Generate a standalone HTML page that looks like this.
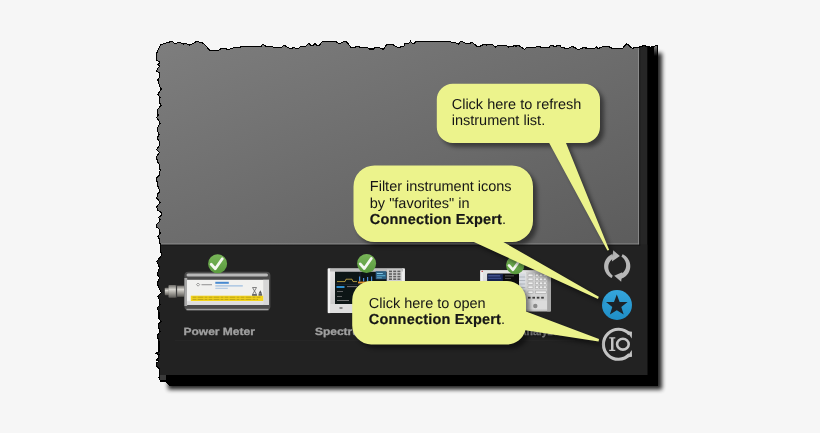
<!DOCTYPE html>
<html><head><meta charset="utf-8">
<style>
html,body{margin:0;padding:0;width:820px;height:433px;overflow:hidden;background:#f6f6f6;}
svg{position:absolute;left:0;top:0;}
.t{font-family:"Liberation Sans",sans-serif;font-size:14.5px;fill:#161616;}
.b{font-weight:bold;letter-spacing:0.2px;stroke:#161616;stroke-width:0.2px;}
.lab{font-family:"Liberation Sans",sans-serif;font-size:10.5px;font-weight:bold;fill:#a0a0a0;stroke:#a0a0a0;stroke-width:0.3px;}
</style></head><body>
<svg width="820" height="433" viewBox="0 0 820 433" text-rendering="geometricPrecision">
<defs>
<path id="torn" d="M156.8,53.3 L158.7,48.4 L160.5,44.8 L164.8,43.3 L172,41.3 L174.5,43.3 L180.6,42.6 L183,44.1 L186,43.5 L189.8,45.1 L197,41.3 L203.2,43.3 L209.9,50.2 L219,50.2 L220.9,48.4 L225.7,48.7 L228.2,49.6 L234.3,47.6 L245.2,46.6 L255,46.6 L261.1,46.3 L262.9,44.1 L266,46.2 L272.1,46.2 L273.3,47.2 L281.8,47.2 L283.7,45.4 L286.1,46.3 L289.1,48.2 L292.2,48.2 L293.4,47.2 L295.2,48.2 L298.9,48.2 L300.7,46.3 L305.6,46.3 L308.7,43.5 L311.1,45.4 L312.9,45.4 L314.8,43.5 L317.2,45.4 L319,45.4 L322.7,41.3 L335.5,41.3 L338.5,43.5 L340.4,43.5 L341.6,42.6 L344.6,41.3 L347.1,42.3 L351.3,47.8 L355,47.2 L358,46.2 L361.1,47.8 L367.8,47.8 L369.6,49 L373.3,49 L375.1,47.2 L378.8,47.2 L381.8,49 L383.7,49 L386.7,44.5 L390.4,44.5 L392.2,44.1 L397.1,47.2 L400.1,47.2 L401.3,46.3 L403.8,46.3 L405,43.5 L408.7,43.5 L410.5,41.3 L412.3,43.3 L414.1,43.3 L416,41.3 L449.5,41.3 L451.3,42.3 L455,42.3 L456.2,43.3 L458.7,44.1 L460.5,41.3 L464.1,42.3 L465.4,43.3 L470.2,43.3 L471.5,42.3 L473.3,43.3 L477,46.3 L480,46.3 L482.4,45.1 L484.9,44.1 L486.7,45.1 L487.9,44.1 L492.2,44.1 L495.2,47.2 L498.3,45.4 L506.2,45.4 L508,47.2 L509.3,46.3 L512.9,46.3 L514.1,45.4 L516,46.3 L517.8,45.4 L520.2,46.3 L524.5,49.4 L526.3,47.6 L535.5,47.2 L536.7,46.6 L545.9,47.6 L548.9,47.6 L550.7,45.4 L555,46.4 L559.7,45.1 L561.7,47.8 L563.7,47.5 L565.7,48.8 L569.8,47.8 L572.4,46.4 L575.1,47.8 L578.5,49.8 L581.2,48.2 L583.9,47.8 L589.9,48.4 L593.9,48.8 L596.6,46.8 L598,48.8 L600.6,47.5 L603.3,46.4 L608.7,46.4 L612.7,48.8 L622.1,48.8 L626.8,43.7 L632.2,48.2 L638.2,47.5 L643.6,45.7 L645,45.7 L647,46.9 L648.2,46.1 L650.3,47.7 L651.9,46.5 L653.1,46.9 L655.5,45.7 L657.7,45.3 L657.7,385 L169.3,385 L165.3,381 L160.7,381 L159,377.9 L159.5,375 L159.5,369.2 L157.2,366.9 L156.1,363.5 L159,361.1 L156.7,360 L158.4,358.3 L159,354.8 L156.1,353.3 L159,351.9 L159,341.5 L157.2,335.8 L160.1,331.7 L159,328.8 L158.4,324.2 L161.3,321.3 L159,319 L159,312.7 L157.2,308.1 L160.1,304.6 L159.5,300 L157.8,296.1 L161.3,292.7 L159,288.1 L157.2,283.4 L159.5,277.7 L157.2,274.2 L159.5,267.3 L156.7,261.5 L161.3,255.8 L160.7,249.6 L160.1,243.8 L159.5,239.2 L157.8,236.9 L160.1,233.4 L159.5,229.4 L156.7,227.1 L156.7,224.2 L159.5,221.3 L160.1,219.6 L158.4,217.3 L161.3,215.6 L161.8,212.7 L157.8,210.4 L156.7,206.9 L160.1,202.3 L158.4,200 L156.7,198.4 L157.8,193.8 L160.1,191 L158.4,188.1 L157.2,183.4 L156.7,177.7 L159.5,175.4 L160.1,170.2 L159,163.8 L157.2,161.5 L156.7,156.3 L159.5,152.3 L156.7,149.6 L159,146.1 L159.5,141.5 L157.2,138.1 L159,134.6 L157.2,130 L157.8,127.1 L160.1,123.6 L159.5,121.9 L156.7,117.3 L158.4,115 L157.2,113.8 L157.8,109.2 L161.3,105.2 L159.5,102.9 L159.5,100 L160.1,97.3 L157.8,94.4 L161.3,89.2 L159.5,85.8 L157.8,80 L159.5,77.1 L159.5,73.1 L156.7,71.3 L157.2,69 L160.1,66.1 L157.8,65 L160.1,62.1 L156.7,60.4 L156.7,53.5 Z"/>
<clipPath id="clip"><use href="#torn"/></clipPath>
<filter id="sh" x="-10%" y="-10%" width="120%" height="120%"><feGaussianBlur stdDeviation="2"/></filter>
<filter id="soft" x="-5%" y="-5%" width="110%" height="110%"><feGaussianBlur stdDeviation="0.35"/></filter>
<filter id="csh" x="-20%" y="-20%" width="140%" height="140%"><feGaussianBlur stdDeviation="2"/></filter>
<linearGradient id="gg" x1="0" y1="0" x2="1" y2="1">
<stop offset="0" stop-color="#7e7e7e"/><stop offset="1" stop-color="#5c5c5c"/></linearGradient>
<linearGradient id="grn" x1="0" y1="0" x2="0" y2="1">
<stop offset="0" stop-color="#78b558"/><stop offset="1" stop-color="#5a9a3e"/></linearGradient>
<linearGradient id="blu" x1="0" y1="0" x2="0" y2="1">
<stop offset="0" stop-color="#35a6dc"/><stop offset="1" stop-color="#1f8ec6"/></linearGradient>
<linearGradient id="metal" x1="0" y1="0" x2="0" y2="1">
<stop offset="0" stop-color="#6e6c68"/><stop offset="0.35" stop-color="#d8d6d0"/><stop offset="0.6" stop-color="#a8a6a0"/><stop offset="1" stop-color="#5a5854"/></linearGradient>
<linearGradient id="pmtop" x1="0" y1="0" x2="0" y2="1">
<stop offset="0" stop-color="#505050"/><stop offset="0.3" stop-color="#8c8c8c"/><stop offset="0.6" stop-color="#5c5c5c"/><stop offset="1" stop-color="#464646"/></linearGradient>
<linearGradient id="pmbot" x1="0" y1="0" x2="0" y2="1">
<stop offset="0" stop-color="#4a4a4a"/><stop offset="0.7" stop-color="#5e5e5e"/><stop offset="1" stop-color="#a8a8a8"/></linearGradient>
<linearGradient id="silver" x1="0" y1="0" x2="0" y2="1">
<stop offset="0" stop-color="#e6e6e6"/><stop offset="1" stop-color="#c2c2c2"/></linearGradient>
<path id="c1" d="M452.8,83.8 H584 A16,16 0 0 1 600,99.8 V127 A16,16 0 0 1 584,143 H566 L609.2,250 L607.4,250.4 L549.2,143 H452.8 A16,16 0 0 1 436.8,127 V99.8 A16,16 0 0 1 452.8,83.8 Z"/>
<path id="c2" d="M374.5,165.4 H512 A21,21 0 0 1 533,186.4 V221 A21,21 0 0 1 512,242 H503.4 L598.8,296.8 L598,299 L473.9,242 H374.5 A21,21 0 0 1 353.5,221 V186.4 A21,21 0 0 1 374.5,165.4 Z"/>
<path id="c3" d="M371.2,281 H507 A19,19 0 0 1 526,300 V311.6 L599,339 L598.6,341.4 L525.4,330.2 A19,19 0 0 1 507,344.4 H371.2 A19,19 0 0 1 352.2,325.4 V300 A19,19 0 0 1 371.2,281 Z"/>
<linearGradient id="streak" x1="0" y1="0" x2="0" y2="1"><stop offset="0" stop-color="#9a9a9a"/><stop offset="1" stop-color="#000"/></linearGradient>
<filter id="nf" x="-5%" y="-20%" width="110%" height="140%"><feOffset dx="0" dy="0"/></filter>
</defs>
<!-- panel shadow -->
<path d="M650,53 H662 V389.5 H168 V378 H650 Z" fill="#000" opacity="0.85" filter="url(#sh)"/>
<!-- panel -->
<g clip-path="url(#clip)">
<rect x="150" y="38" width="512" height="352" fill="#000"/>
<rect x="150" y="38" width="489" height="207" fill="url(#gg)"/>
<rect x="639.3" y="38" width="8" height="337" fill="#262626"/>
<rect x="150" y="244.6" width="497.3" height="130.4" fill="#222"/>
<rect x="638.3" y="38" width="1" height="206.6" fill="#999"/>
<rect x="150" y="243.6" width="489.3" height="1" fill="#999"/>
<rect x="639.3" y="38" width="0.9" height="207.5" fill="#141414"/>
<rect x="150" y="244.6" width="490.2" height="0.9" fill="#141414"/>
<rect x="175" y="340.2" width="400" height="0.8" fill="#292929"/>
<rect x="654" y="44" width="3.5" height="12" fill="url(#streak)"/>
<rect x="159" y="375" width="7" height="6" fill="#3a3a3a"/>
</g>
<use href="#torn" fill="none" stroke="#000" stroke-width="1.1" shape-rendering="crispEdges"/>

<!-- power meter -->
<g filter="url(#soft)">
<rect x="164.8" y="287.8" width="4" height="7.4" rx="0.8" fill="url(#metal)"/>
<rect x="168.5" y="285.1" width="7.6" height="12.7" rx="0.8" fill="url(#metal)"/>
<rect x="175.9" y="285.1" width="1.2" height="12.7" fill="#3a3a3a"/>
<rect x="177.1" y="285.6" width="7.6" height="11.2" fill="url(#metal)"/>
<rect x="184.4" y="271.8" width="86" height="38.5" rx="4" fill="#4c4c4c"/>
<rect x="186.5" y="273.4" width="81.5" height="3" rx="1.5" fill="#b8b8b8"/>
<rect x="184.4" y="278" width="2.8" height="28" fill="#a8a8a8"/>
<rect x="187" y="279.8" width="82" height="25" fill="#f1f1ef"/>
<rect x="263.2" y="279.8" width="5.8" height="25" fill="#d6d6d6"/>
<rect x="190.8" y="295.7" width="72.4" height="5.3" fill="#f2d31c"/>
<path d="M192.5,297.2 H261 M192.5,299.4 H258" stroke="#5a4e10" stroke-width="0.7" opacity="0.5" stroke-dasharray="4 1 6 1 3 1"/>
<rect x="187" y="301.2" width="76" height="3.6" fill="#dedede"/>
<rect x="186.5" y="308.8" width="82" height="1.5" fill="#a0a0a0"/>
<path d="M196.5,284.6 l1.6,-1.6 l1.6,1.6 l-1.6,1.6 z" fill="none" stroke="#777" stroke-width="0.7"/>
<rect x="201.5" y="284" width="10.5" height="1.3" fill="#a6a6a6"/>
<rect x="215.3" y="281.8" width="13.5" height="2" fill="#4a8ad0"/>
<rect x="215.3" y="285.4" width="27.5" height="1" fill="#8ab2dc"/>
<rect x="215.3" y="287.8" width="12.5" height="1" fill="#a8c4e2"/>
<path d="M252.5,287.5 h4 l-2,3.5 l2,3.5 h-4 l2,-3.5 z" fill="none" stroke="#666" stroke-width="0.8"/>
<rect x="252" y="294.5" width="5" height="1.2" fill="#555"/>
<path d="M258.5,293.8 l1.8,-3.6 l1.8,3.6 z" fill="#555"/>
<rect x="258.5" y="294.2" width="3.6" height="1.4" fill="#444"/>
</g>
<!-- spectrum analyzer -->
<g filter="url(#soft)">
<rect x="327.8" y="268.5" width="77" height="44.6" rx="1" fill="url(#silver)"/>
<rect x="327.8" y="268.5" width="2.5" height="44.6" fill="#f2f2f2"/>
<rect x="402" y="268.5" width="2.8" height="44.6" fill="#ededed"/>
<rect x="330" y="268.5" width="73" height="3" fill="#bcbcbc"/>
<rect x="335" y="271.7" width="51.7" height="32.3" fill="#0e1218"/>
<path d="M337,281.6 H345 L346,279.2 H352 L353,281.6 H357" fill="none" stroke="#d0b848" stroke-width="0.8"/>
<path d="M336,284.5 H386 M360,272 V304" stroke="#3a3f48" stroke-width="0.4"/>
<rect x="359" y="276.5" width="1.2" height="5" fill="#4a90d8"/>
<rect x="363" y="278" width="1.2" height="3.5" fill="#4a90d8"/>
<rect x="367" y="277" width="1.2" height="4.5" fill="#4a90d8"/>
<rect x="371" y="276.5" width="1.2" height="5" fill="#4a90d8"/>
<rect x="358" y="281.6" width="14" height="1.8" fill="#e0902a"/>
<rect x="375.7" y="271.2" width="10.6" height="8" fill="#2b5f82"/>
<rect x="376.8" y="273" width="6" height="0.9" fill="#8fd0ee"/>
<rect x="376.8" y="275.3" width="8.5" height="0.9" fill="#5fb8e0"/>
<rect x="376.8" y="277.4" width="5" height="0.8" fill="#7ab0c8"/>
<rect x="336.5" y="286" width="8" height="2" fill="#2f8fd0"/>
<rect x="347" y="286.3" width="10" height="0.8" fill="#8a8a8a"/>
<rect x="337" y="291" width="6" height="0.8" fill="#777"/>
<rect x="337" y="296" width="5" height="0.8" fill="#777"/>
<rect x="337" y="300" width="12" height="0.8" fill="#8a8a8a"/>
<rect x="387" y="269.5" width="14.5" height="12" fill="#cfcfcf"/>
<g fill="#5e5e5e">
<rect x="389" y="270.6" width="3" height="1.6"/><rect x="393.2" y="270.6" width="3" height="1.6"/><rect x="397.4" y="270.6" width="3" height="1.6"/>
<rect x="389" y="273.2" width="3" height="1.6"/><rect x="393.2" y="273.2" width="3" height="1.6"/><rect x="397.4" y="273.2" width="3" height="1.6"/>
<rect x="389" y="275.8" width="3" height="1.6"/><rect x="393.2" y="275.8" width="3" height="1.6"/><rect x="397.4" y="275.8" width="3" height="1.6"/>
<rect x="389" y="278.4" width="3" height="1.6"/><rect x="393.2" y="278.4" width="3" height="1.6"/><rect x="397.4" y="278.4" width="3" height="1.6"/>
</g>
<rect x="330" y="304" width="56" height="9" fill="#dedede"/>
<rect x="339.5" y="307" width="3" height="2" fill="#888"/>
</g>
<!-- network analyzer -->
<g filter="url(#soft)">
<rect x="480.3" y="270.3" width="70.6" height="41.1" rx="1" fill="url(#silver)"/>
<rect x="480.3" y="270.3" width="2.5" height="41.1" fill="#f0f0f0"/>
<rect x="547.2" y="270.3" width="3.7" height="41.1" fill="#a6a6a6"/>
<rect x="482.8" y="270.3" width="64.4" height="3" fill="#e4e4e4"/>
<rect x="481.5" y="270.8" width="1.5" height="1" fill="#c03030"/>
<rect x="487.4" y="273.5" width="31.6" height="27.5" fill="#0b0b0b"/>
<rect x="487.4" y="274" width="15.5" height="7" fill="#162050"/>
<rect x="488.2" y="275.5" width="12" height="0.8" fill="#6a80c0"/>
<rect x="488.2" y="277.8" width="13" height="0.8" fill="#5068a8"/>
<rect x="505" y="275.5" width="9" height="0.8" fill="#666"/>
<rect x="505" y="278" width="6" height="0.8" fill="#555"/>
<rect x="519.2" y="273.5" width="6" height="27.5" fill="#d6dae0"/>
<path d="M519.2,277 H525.2 M519.2,280.5 H525.2 M519.2,284 H525.2 M519.2,287.5 H525.2 M519.2,291 H525.2 M519.2,294.5 H525.2" stroke="#8a9098" stroke-width="0.5"/>
<rect x="526" y="272" width="21" height="37" fill="#d2d2d2"/>
<g fill="#eeeeee" stroke="#9a9a9a" stroke-width="0.5">
<rect x="528" y="274" width="5" height="2.6"/><rect x="528" y="278" width="5" height="2.6"/><rect x="528" y="282" width="5" height="2.6"/><rect x="528" y="286" width="5" height="2.6"/>
<rect x="535.5" y="274" width="3.2" height="2.6"/><rect x="539.6" y="274" width="3.2" height="2.6"/><rect x="543.2" y="274" width="3" height="2.6"/>
<rect x="535.5" y="278" width="3.2" height="2.6"/><rect x="539.6" y="278" width="3.2" height="2.6"/><rect x="543.2" y="278" width="3" height="2.6"/>
<rect x="535.5" y="282" width="3.2" height="2.6"/><rect x="539.6" y="282" width="3.2" height="2.6"/><rect x="543.2" y="282" width="3" height="2.6"/>
<rect x="535.5" y="286" width="3.2" height="2.6"/><rect x="539.6" y="286" width="3.2" height="2.6"/><rect x="543.2" y="286" width="3" height="2.6"/>
<rect x="528" y="291" width="5" height="2.4"/><rect x="535.5" y="291" width="10.7" height="2.4"/>
</g>
<rect x="528" y="296.8" width="2.6" height="1.8" fill="#3a3a3a"/>
<rect x="532.4" y="296.8" width="2.6" height="1.8" fill="#3a3a3a"/>
<rect x="536.8" y="296.8" width="2.6" height="1.8" fill="#3a3a3a"/>
<rect x="541.2" y="296.8" width="2.6" height="1.8" fill="#3a3a3a"/>
<rect x="526" y="300.5" width="21" height="9" fill="#dcdcdc"/>
<circle cx="535.3" cy="306" r="2.2" fill="#8a8a8a"/>
</g>

<!-- check circles -->
<g><circle cx="217.6" cy="263.8" r="9.5" fill="url(#grn)"/><path d="M211.2,264.2 L215.3,268.8 L222.3,258.8" fill="none" stroke="#f4f8f0" stroke-width="2.8" stroke-linecap="round" stroke-linejoin="round"/></g>
<g><circle cx="366.6" cy="263.5" r="9.5" fill="url(#grn)"/><path d="M360.2,263.9 L364.3,268.5 L371.3,258.5" fill="none" stroke="#f4f8f0" stroke-width="2.8" stroke-linecap="round" stroke-linejoin="round"/></g>
<g><circle cx="515.2" cy="265" r="9.2" fill="url(#grn)"/><path d="M509,265.4 L513,269.8 L519.8,260.2" fill="none" stroke="#f4f8f0" stroke-width="2.7" stroke-linecap="round" stroke-linejoin="round"/></g>

<text filter="url(#nf)" class="lab" x="183.5" y="335" textLength="71.4" lengthAdjust="spacingAndGlyphs">Power Meter</text>
<text filter="url(#nf)" class="lab" x="315" y="335" textLength="108" lengthAdjust="spacingAndGlyphs">Spectrum Analyzer</text>
<text filter="url(#nf)" class="lab" x="519" y="335">Analyzer</text>

<!-- refresh icon -->
<g fill="#b6b6b6">
<path d="M613.2,250.2 L619.9,256 L611.9,261.4 Z"/>
<path d="M614.2,275.8 L622.2,272.2 L621.2,281.8 Z"/>
<path d="M612.29,254.05 L611.14,254.58 L610.05,255.22 L609.02,255.97 L608.07,256.80 L607.21,257.73 L606.44,258.73 L605.77,259.81 L605.20,260.94 L604.75,262.12 L604.41,263.35 L604.20,264.59 L604.10,265.86 L604.13,267.12 L604.28,268.38 L604.55,269.62 L604.94,270.82 L605.45,271.99 L606.06,273.09 L606.78,274.14 L607.59,275.11 L608.50,275.99 L609.48,276.79 L610.54,277.48 L611.66,278.07 L612.80,275.63 L612.01,274.99 L611.29,274.30 L610.65,273.57 L610.08,272.80 L609.59,271.99 L609.18,271.16 L608.85,270.31 L608.60,269.44 L608.43,268.57 L608.33,267.70 L608.31,266.83 L608.37,265.97 L608.50,265.12 L608.70,264.30 L608.97,263.50 L609.30,262.74 L609.70,262.01 L610.17,261.32 L610.69,260.68 L611.26,260.09 L611.89,259.55 L612.56,259.07 L613.27,258.66 L614.02,258.32 Z"/>
<path d="M621.03,278.73 L622.27,278.28 L623.47,277.70 L624.60,277.01 L625.65,276.21 L626.62,275.31 L627.49,274.31 L628.25,273.23 L628.91,272.08 L629.44,270.87 L629.85,269.61 L630.13,268.32 L630.28,267.00 L630.29,265.68 L630.17,264.36 L629.92,263.06 L629.54,261.79 L629.03,260.57 L628.40,259.40 L627.66,258.31 L626.81,257.29 L625.86,256.37 L624.82,255.55 L623.71,254.83 L622.53,254.23 L621.43,256.70 L622.27,257.34 L623.04,258.04 L623.72,258.80 L624.32,259.60 L624.83,260.44 L625.26,261.31 L625.60,262.20 L625.85,263.11 L626.02,264.02 L626.10,264.94 L626.10,265.84 L626.02,266.74 L625.86,267.62 L625.61,268.47 L625.29,269.29 L624.90,270.07 L624.45,270.81 L623.92,271.50 L623.34,272.14 L622.70,272.71 L622.01,273.22 L621.27,273.67 L620.49,274.04 L619.69,274.33 Z"/>
</g>
<!-- star icon -->
<circle cx="617" cy="305" r="15" fill="url(#blu)"/>
<path d="M616.8,294.5 L619.6,302 L627.6,302.1 L621.3,307 L623.7,314.6 L616.8,310.2 L609.9,314.6 L612.3,307 L606,302.1 L614,302 Z" fill="#1c2228"/>
<!-- IO icon -->
<g fill="#c4c4c4">
<path d="M629.5,334.2 A15,15 0 1 0 629.5,354.4" fill="none" stroke="#c4c4c4" stroke-width="3.1"/>
<path d="M626.5,331 L632,331.8 L631.8,338.5 Z"/>
<path d="M626.5,357.6 L632,356.8 L631.8,350.1 Z"/>
<path d="M609.2,337.3 H615.3 V338.5 H613.5 V349.7 H615.3 V350.9 H609.2 V349.7 H611 V338.5 H609.2 Z"/>
<ellipse cx="622.9" cy="344.2" rx="5.8" ry="5.4" fill="none" stroke="#c4c4c4" stroke-width="2.6"/>
</g>

<!-- callout 1 -->
<g>
<use href="#c1" fill="#000" opacity="0.45" transform="translate(4,4)" filter="url(#csh)"/>
<use href="#c1" fill="#ecf38c"/>
<text filter="url(#nf)" class="t" x="451.7" y="108.6">Click here to refresh</text>
<text filter="url(#nf)" class="t" x="451.7" y="125.2">instrument list.</text>
</g>
<!-- callout 2 -->
<g>
<use href="#c2" fill="#000" opacity="0.45" transform="translate(4,4)" filter="url(#csh)"/>
<use href="#c2" fill="#ecf38c"/>
<text filter="url(#nf)" class="t" x="369.8" y="190.9">Filter instrument icons</text>
<text filter="url(#nf)" class="t" x="369.8" y="207.7">by "favorites" in</text>
<text filter="url(#nf)" class="t" x="369.8" y="224.3"><tspan class="b">Connection Expert</tspan>.</text>
</g>
<!-- callout 3 -->
<g>
<use href="#c3" fill="#000" opacity="0.45" transform="translate(4,4)" filter="url(#csh)"/>
<use href="#c3" fill="#ecf38c"/>
<text filter="url(#nf)" class="t" x="368.8" y="307.8">Click here to open</text>
<text filter="url(#nf)" class="t" x="368.8" y="324.1"><tspan class="b">Connection Expert</tspan>.</text>
</g>
</svg>
</body></html>
